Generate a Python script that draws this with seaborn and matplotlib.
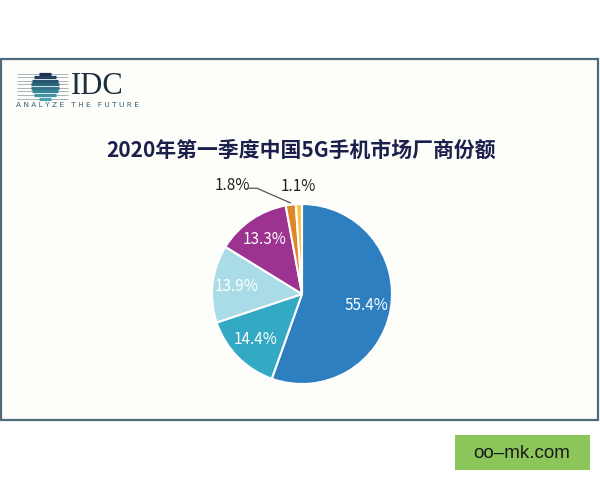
import numpy as np
import matplotlib
matplotlib.use("Agg")
import matplotlib.pyplot as plt
import matplotlib.patches as mpatches
import seaborn as sns

# ---- data ----
title = "2020年第一季度中国5G手机市场厂商份额"
shares = [55.4, 14.4, 13.9, 13.3, 1.8, 1.1]
labels = ["55.4%", "14.4%", "13.9%", "13.3%", "1.8%", "1.1%"]
colors = ["#2d7fc0", "#34a9c4", "#a9dce6", "#9c3390", "#e0862a", "#f6c44a"]
label_colors = ["white", "white", "white", "white", "#222222", "#222222"]
watermark = "oo–mk.com"

sns.set_theme(style="white")
plt.rcParams["font.family"] = ["Noto Sans CJK SC", "DejaVu Sans"]

fig = plt.figure(figsize=(6, 4.8), dpi=100)
fig.patch.set_facecolor("white")

# overlay axes in pixel coordinates
ov = fig.add_axes([0, 0, 1, 1], zorder=0)
ov.set_xlim(0, 600)
ov.set_ylim(480, 0)
ov.axis("off")
ov.patch.set_alpha(0)

# frame
ov.add_patch(mpatches.Rectangle((1, 59), 597, 361, facecolor="#fdfdf9",
                                edgecolor="#4f6b7a", lw=1.6))

# IDC globe logo
gcx, gcy, gr = 45, 86, 14
ys = np.linspace(73.5, 98.5, 8)
cmap = matplotlib.colors.LinearSegmentedColormap.from_list("g", ["#1c3150", "#2d6f86", "#4aa0ad"])
for i, y in enumerate(ys):
    ov.plot([17, 68], [y, y], color="#9aa8b0", lw=0.6, solid_capstyle="butt")
    d = abs(y - gcy)
    if d < gr:
        hw = np.sqrt(gr ** 2 - d ** 2)
        ov.plot([gcx - hw, gcx + hw], [y, y], color=cmap(i / (len(ys) - 1)),
                lw=2.3, solid_capstyle="butt")
ov.text(71, 94, "IDC", family="Liberation Serif", fontsize=22, color="#1a2e3e",
        ha="left", va="baseline")
ov.text(16, 105, "A N A L Y Z E   T H E   F U T U R E", family="DejaVu Sans",
        fontsize=5.3, color="#3a6070", ha="left", va="center")

# title
ov.text(301, 150, title, fontsize=15, color="#1b1f4b", ha="center", va="center",
        fontweight="bold")

# watermark box
ov.add_patch(mpatches.Rectangle((455, 435), 135, 35, facecolor="#8cc65a", edgecolor="none"))
ov.text(522, 453, watermark, family="Liberation Sans", fontsize=13.5, color="#1a1a1a",
        ha="center", va="center")

# pie axes
cx, cy, R, half = 302, 294, 90, 130
ax = fig.add_axes([(cx - half) / 600, (480 - cy - half) / 480, 2 * half / 600, 2 * half / 480],
                  zorder=2)
ax.patch.set_alpha(0)
wedges, _ = ax.pie(shares, colors=colors, startangle=90, counterclock=False,
                   wedgeprops=dict(edgecolor="white", linewidth=1.5))
ax.set_xlim(-half / R, half / R)
ax.set_ylim(-half / R, half / R)
ax.set_aspect("equal")
ax.axis("off")

for i, w in enumerate(wedges):
    th = np.deg2rad((w.theta1 + w.theta2) / 2)
    if shares[i] > 5:
        ax.text(0.73 * np.cos(th), 0.73 * np.sin(th), labels[i], color=label_colors[i],
                fontsize=11, ha="center", va="center")

# small slices
th4 = np.deg2rad((wedges[4].theta1 + wedges[4].theta2) / 2)
ax.text(-0.77, 1.21, labels[4], color=label_colors[4], fontsize=11, ha="center", va="center")
ax.plot([-0.59, -0.50, 1.02 * np.cos(th4)], [1.175, 1.175, 1.02 * np.sin(th4)],
        color="#555555", lw=0.9)
th5 = np.deg2rad((wedges[5].theta1 + wedges[5].theta2) / 2)
ax.text(1.19 * np.cos(th5), 1.19 * np.sin(th5), labels[5], color=label_colors[5],
        fontsize=11, ha="center", va="center")

fig.savefig("out.png", dpi=100, facecolor="white")
